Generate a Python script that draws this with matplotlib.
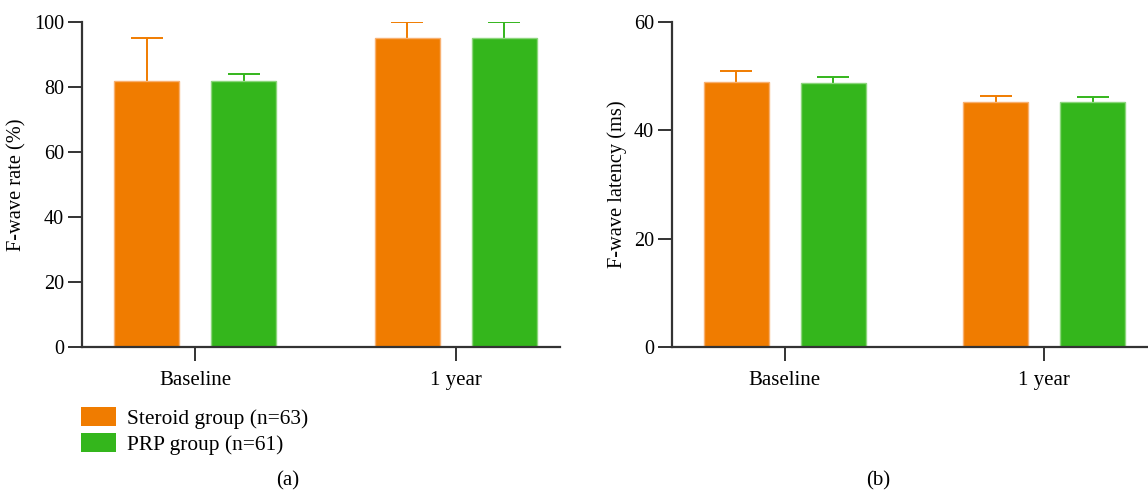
import numpy as np
import matplotlib
matplotlib.use("Agg")
from matplotlib import pyplot as plt
from matplotlib.patches import Patch

plt.rcParams['font.family'] = ['Liberation Serif', 'DejaVu Serif']

# data
timepoints = ['Baseline', '1 year']
groups = ['Steroid group (n=63)', 'PRP group (n=61)']
colors = ['#F07C00', '#34B61C']
edge_colors = ['#F8B070', '#8CD67C']

rate_mean = [[82, 95], [82, 95]]
rate_err = [[13, 5], [2, 5]]
latency_mean = [[48.9, 45.2], [48.7, 45.2]]
latency_err = [[2.0, 1.1], [1.1, 1.0]]

W, H = 1148, 491
fig = plt.figure(figsize=(W / 100, H / 100), dpi=100)

spine_col = '#333333'


def make_panel(rect_px, means, errs, ylim, yticks, ylabel, letter, letter_x):
    left, width_px = rect_px
    ax = fig.add_axes([left / W, (H - 347) / H, width_px / W, 325 / H])
    x = np.arange(len(timepoints))
    off = 0.1865
    width = 0.25
    for i in range(len(groups)):
        xs = x + (i - 0.5) * 2 * off
        ax.bar(xs, means[i], width=width, color=colors[i],
               edgecolor=edge_colors[i], linewidth=1.0, zorder=2)
        eb = ax.errorbar(xs, means[i], yerr=[np.zeros(len(x)), errs[i]],
                         fmt='none', ecolor=colors[i], elinewidth=1.4,
                         capsize=11.5, capthick=1.4, zorder=1)
        eb[1][0].set_visible(False)  # no cap at bar top
    ax.set_xlim(-0.435, 1.40)
    ax.set_ylim(*ylim)
    ax.set_yticks(yticks)
    ax.set_xticks(x)
    ax.set_xticklabels(timepoints, fontsize=15)
    ax.tick_params(axis='y', labelsize=14.5, length=10, width=1.4, color=spine_col, pad=3)
    ax.tick_params(axis='x', length=10, width=1.4, color=spine_col, pad=7)
    for s in ['top', 'right']:
        ax.spines[s].set_visible(False)
    for s in ['left', 'bottom']:
        ax.spines[s].set_color(spine_col)
        ax.spines[s].set_linewidth(1.6)
    ax.set_ylabel(ylabel, fontsize=14.7, labelpad=5)
    fig.text(letter_x / W, 1 - 481 / H, letter, ha='center', va='center', fontsize=15)
    return ax


ax1 = make_panel((82, 478), rate_mean, rate_err, (0, 100), [0, 20, 40, 60, 80, 100],
                 'F-wave rate (%)', '(a)', 288)
ax2 = make_panel((672, 476), latency_mean, latency_err, (0, 60), [0, 20, 40, 60],
                 'F-wave latency (ms)', '(b)', 878)

handles = [Patch(facecolor=colors[i], edgecolor='none') for i in range(len(groups))]
fig.legend(handles, groups, loc='upper left', bbox_to_anchor=(81 / W, 1 - 407 / H),
           frameon=False, fontsize=15.4, handlelength=1.64, handleheight=0.97,
           handletextpad=0.5, labelspacing=0.2, borderpad=0, borderaxespad=0)

plt.savefig("out.png", dpi=100)
